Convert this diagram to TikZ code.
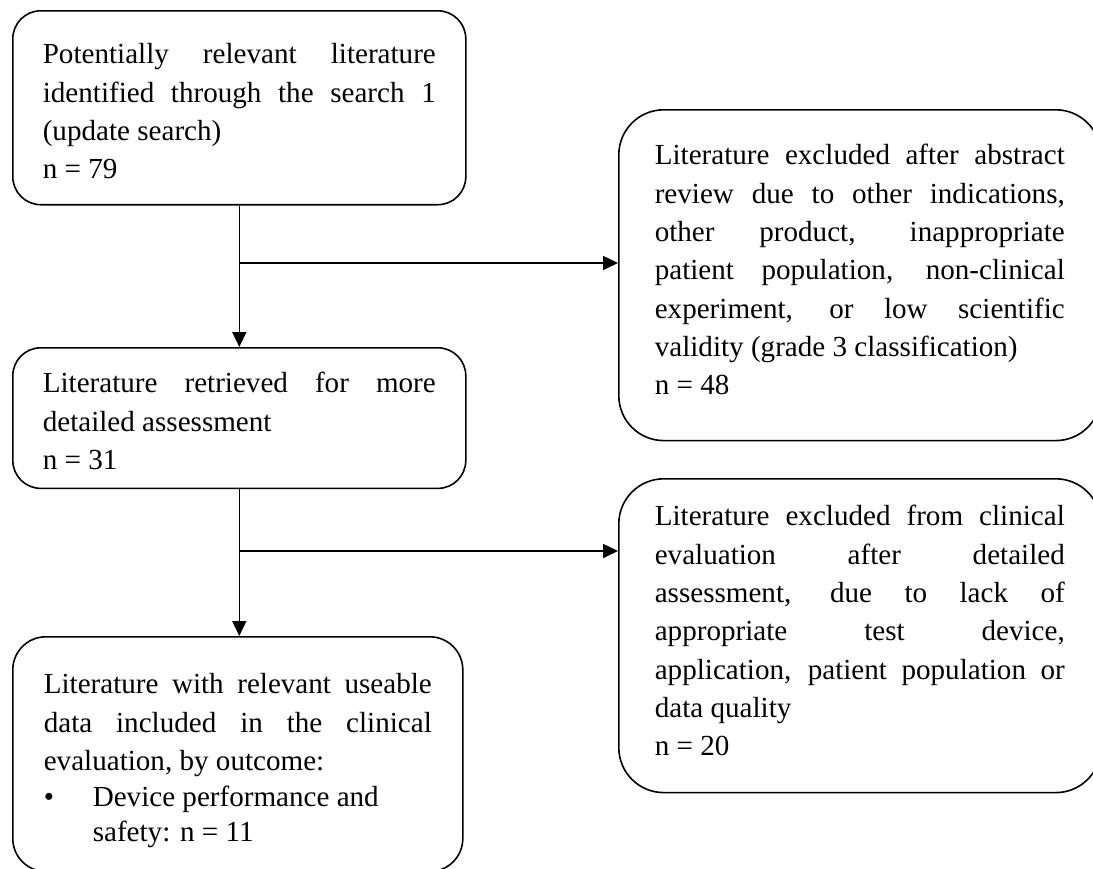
\documentclass[tikz,border=0pt]{standalone}
\usepackage{fontspec}
\setmainfont{Liberation Serif}
\usetikzlibrary{positioning, arrows.meta}

\tolerance=10000
\hbadness=10000
\newcommand{\topgap}[1]{\rule{0pt}{#1pt}}
\newcommand{\botgap}[1]{\rule[-#1pt]{0pt}{#1pt}}

\begin{document}
\begin{tikzpicture}[x=1pt,y=-1pt,
  box/.style={draw, line width=1.6pt, anchor=north west, align=justify,
    inner xsep=30pt, inner ysep=0pt, text width=393pt, rounded corners=28pt,
    font=\fontsize{29.1}{38.3}\selectfont},
  sidebox/.style={box, inner xsep=36pt, text width=410pt, rounded corners=45pt},
  link/.style={line width=1.6pt, -{Triangle[length=15pt,width=14pt]}}]
\useasboundingbox (0,0) rectangle (1093,868);

\node[box] (search) at (12,10) {\topgap{53}Potentially relevant literature\linebreak identified through the search 1\linebreak (update search)\\ n = 79\botgap{26}};
\node[sidebox] (exabstract) at (618,109) {\topgap{55}Literature excluded after abstract\linebreak review due to other indications,\linebreak other product, inappropriate\linebreak patient population, non-clinical\linebreak experiment, or low scientific\linebreak validity (grade 3 classification)\\ n = 48\botgap{46}};
\node[box] (retrieved) at (12,347) {\topgap{45}Literature retrieved for more\linebreak detailed assessment\\ n = 31\botgap{19}};
\node[sidebox] (exdetail) at (618,478) {\topgap{47}Literature excluded from clinical\linebreak evaluation after detailed\linebreak assessment, due to lack of\linebreak appropriate test device,\linebreak application, patient population or\linebreak data quality\\ n = 20\botgap{37}};
\node[box, text width=388pt, inner xsep=31pt, rounded corners=33pt] (included) at (12,636) {\topgap{57}Literature with relevant useable\linebreak data included in the clinical\linebreak evaluation, by outcome:\\[-2.5pt] \makebox[49pt][l]{\textbullet}Device performance and\\[-3pt] \hspace*{49pt}safety: n = 11\botgap{30}};

% search -> retrieved, excluded on the way
\coordinate (split1) at (search.south |- 0,263);
\draw[link] (search.south) -- (search.south |- retrieved.north);
\draw[link] (split1) -- (split1 -| exabstract.west);

% retrieved -> included
\coordinate (split2) at (retrieved.south |- 0,551);
\draw[link] (retrieved.south) -- (retrieved.south |- included.north);
\draw[link] (split2) -- (split2 -| exdetail.west);
\end{tikzpicture}
\end{document}
